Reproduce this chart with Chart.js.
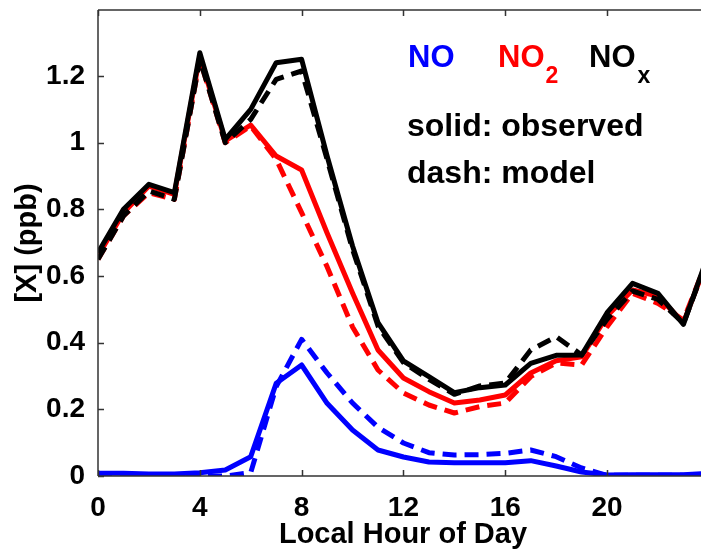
<!DOCTYPE html>
<html>
<head>
<meta charset="utf-8">
<script src="https://cdn.jsdelivr.net/npm/chart.js@4.4.0/dist/chart.umd.min.js"></script>
<style>
  html, body { margin: 0; padding: 0; background: #fff; }
  #wrap { width: 701px; height: 551px; }
</style>
</head>
<body>
<div id="wrap"><canvas id="c" width="701" height="551"></canvas></div>
<script>
const hours = [0,1,2,3,4,5,6,7,8,9,10,11,12,13,14,15,16,17,18,19,20,21,22,23,24];
const xTicks = [0,4,8,12,16,20];
const yTicks = [0,0.2,0.4,0.6,0.8,1,1.2];

const noxObs = [0.67,0.80,0.875,0.85,1.27,1.01,1.10,1.24,1.25,0.96,0.69,0.46,0.345,0.298,0.25,0.265,0.273,0.338,0.362,0.363,0.49,0.578,0.548,0.455,0.67];
const noxMod = [0.65,0.78,0.855,0.83,1.25,1.00,1.07,1.19,1.215,0.95,0.68,0.45,0.34,0.29,0.245,0.27,0.279,0.378,0.418,0.363,0.47,0.555,0.53,0.458,0.66];
const no2Obs = [0.66,0.79,0.87,0.845,1.26,1.005,1.053,0.96,0.918,0.729,0.549,0.378,0.294,0.253,0.219,0.228,0.243,0.309,0.346,0.358,0.48,0.558,0.54,0.46,0.66];
const no2Mod = [0.65,0.78,0.85,0.83,1.25,1.00,1.05,0.95,0.79,0.628,0.447,0.318,0.249,0.213,0.189,0.208,0.219,0.298,0.339,0.333,0.448,0.548,0.518,0.468,0.66];
const noObs  = [0.008,0.008,0.006,0.006,0.01,0.018,0.058,0.278,0.333,0.218,0.138,0.078,0.057,0.042,0.04,0.04,0.04,0.046,0.03,0.012,0.003,0.004,0.004,0.004,0.008];
const noMod  = [0,0,0,0,0,0,0.01,0.268,0.41,0.309,0.219,0.146,0.099,0.07,0.063,0.064,0.068,0.078,0.058,0.024,0.002,0.002,0.002,0.002,0.005];

const FONT = "'Liberation Sans', Arial, Helvetica, sans-serif";
const pts = arr => hours.map((h, i) => ({x: h, y: arr[i]}));
const line = (arr, color, dashed) => ({
  data: pts(arr),
  borderColor: color,
  backgroundColor: color,
  borderWidth: 5,
  borderDash: dashed ? [14, 8] : [],
  borderJoinStyle: 'round',
  pointRadius: 0,
  tension: 0,
  fill: false
});

// first dataset is drawn on top
const datasets = [
  line(noxMod, '#000000', true),
  line(noxObs, '#000000', false),
  line(no2Mod, '#ff0000', true),
  line(no2Obs, '#ff0000', false),
  line(noMod, '#0000ff', true),
  line(noObs, '#0000ff', false)
];

const decor = {
  id: 'decor',
  afterDraw(chart) {
    const ctx = chart.ctx;
    const a = chart.chartArea;
    const xs = chart.scales.x, ys = chart.scales.y;
    ctx.save();
    ctx.strokeStyle = '#333';
    ctx.lineWidth = 1.5;
    ctx.beginPath();
    ctx.moveTo(a.left, a.top); ctx.lineTo(a.left, a.bottom);
    ctx.moveTo(a.left, a.top); ctx.lineTo(a.right, a.top);
    ctx.moveTo(a.left, a.bottom); ctx.lineTo(a.right, a.bottom);
    xTicks.forEach(v => {
      const px = Math.round(xs.getPixelForValue(v)) + 0.5;
      ctx.moveTo(px, a.bottom); ctx.lineTo(px, a.bottom - 6);
      ctx.moveTo(px, a.top); ctx.lineTo(px, a.top + 6);
    });
    yTicks.forEach(v => {
      const py = Math.round(ys.getPixelForValue(v)) + 0.5;
      ctx.moveTo(a.left, py); ctx.lineTo(a.left + 6, py);
    });
    ctx.stroke();

    // axis titles
    ctx.fillStyle = '#000';
    ctx.font = 'bold 29px ' + FONT;
    ctx.textAlign = 'center';
    ctx.textBaseline = 'alphabetic';
    ctx.fillText('Local Hour of Day', 403, 543);
    ctx.save();
    ctx.translate(28, 243);
    ctx.rotate(-Math.PI / 2);
    ctx.font = 'bold 29px ' + FONT;
    ctx.textBaseline = 'middle';
    ctx.fillText('[X] (ppb)', 0, 0);
    ctx.restore();

    // legend text
    ctx.textAlign = 'left';
    ctx.textBaseline = 'alphabetic';
    ctx.font = 'bold 31px ' + FONT;
    ctx.fillStyle = '#0000ff';
    ctx.fillText('NO', 408, 67);
    ctx.fillStyle = '#ff0000';
    ctx.fillText('NO', 498, 67);
    let w = ctx.measureText('NO').width;
    ctx.font = 'bold 23px ' + FONT;
    ctx.fillText('2', 498 + w + 1, 83);
    ctx.fillStyle = '#000';
    ctx.font = 'bold 31px ' + FONT;
    ctx.fillText('NO', 589, 67);
    ctx.font = 'bold 23px ' + FONT;
    ctx.fillText('x', 589 + w + 2, 83);
    ctx.font = 'bold 32px ' + FONT;
    ctx.fillText('solid: observed', 407, 136);
    ctx.fillText('dash: model', 407, 183);
    ctx.restore();
  }
};

const noPad = s => { s.paddingTop = 0; s.paddingBottom = 0; s.paddingLeft = 0; s.paddingRight = 0; };

new Chart(document.getElementById('c'), {
  type: 'line',
  data: { datasets },
  options: {
    responsive: false,
    animation: false,
    devicePixelRatio: 1,
    layout: { padding: { top: 10, right: 0, left: 0, bottom: 0 } },
    plugins: { legend: { display: false }, tooltip: { enabled: false }, title: { display: false } },
    scales: {
      x: {
        type: 'linear',
        min: 0,
        max: 23.69,
        grid: { display: false },
        border: { display: false },
        afterBuildTicks: s => { s.ticks = xTicks.map(v => ({ value: v })); },
        afterFit: s => { s.height = 75; noPad(s); },
        ticks: {
          color: '#000',
          font: { family: FONT, size: 28, weight: 'bold' },
          padding: 7,
          maxRotation: 0,
          autoSkip: false,
          callback: v => String(v)
        }
      },
      y: {
        type: 'linear',
        min: 0,
        max: 1.398,
        grid: { display: false },
        border: { display: false },
        afterBuildTicks: s => { s.ticks = yTicks.map(v => ({ value: v })); },
        afterFit: s => { s.width = 98; noPad(s); },
        ticks: {
          color: '#000',
          font: { family: FONT, size: 28, weight: 'bold' },
          padding: 5,
          autoSkip: false,
          callback: v => String(+v.toFixed(1))
        }
      }
    }
  },
  plugins: [decor]
});
</script>
</body>
</html>
